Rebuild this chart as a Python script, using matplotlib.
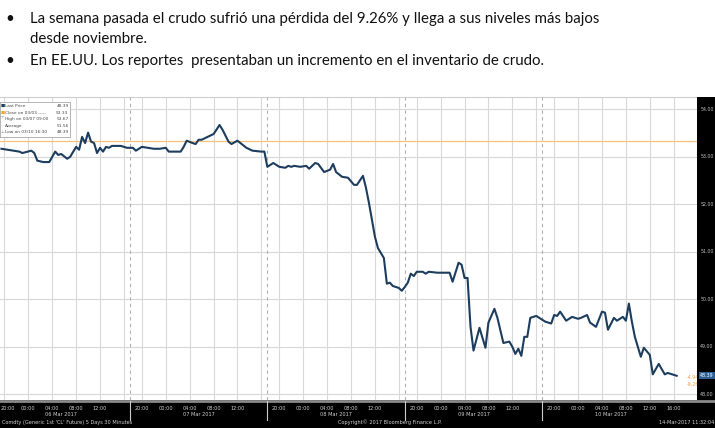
import matplotlib
matplotlib.use("Agg")
import matplotlib.pyplot as plt
from matplotlib.transforms import blended_transform_factory

# CL1 30-minute bars; x = trading hours since 05 Mar 2017 18:00 (sessions of 23 h: 18:00 -> 17:00)
hours = [1.5, 2.5, 3.5, 4.5, 5.0, 6.5, 7.0, 7.5, 8.5, 9.5,
         10.5, 11.0, 11.5, 12.5, 13.0, 14.0, 14.5, 15.0, 15.5, 16.0,
         16.5, 17.0, 17.5, 18.0, 18.5, 19.0, 19.5, 20.0, 21.5, 22.5,
         23.5, 24.0, 25.0, 26.0, 27.0, 28.0, 29.0, 29.5, 30.0, 31.5,
         32.0, 32.5, 33.5, 34.0, 34.5, 35.0, 36.0, 37.0, 38.0, 38.5,
         39.5, 40.0, 41.0, 41.5, 42.5, 43.5, 45.0, 45.5, 46.0, 46.5,
         47.0, 48.0, 49.0, 49.5, 50.0, 50.5, 51.5, 52.5, 53.0, 54.0,
         54.5, 55.5, 56.5, 57.0, 57.5, 58.5, 59.5, 60.5, 61.0, 62.0,
         62.5, 63.0, 64.0, 64.5, 65.5, 66.0, 66.5, 67.0, 68.0, 68.5,
         69.0, 69.5, 70.0, 70.5, 71.0, 72.0, 72.5, 73.0, 74.5, 76.5,
         77.0, 78.0, 78.5, 79.0, 79.5, 80.0, 80.5, 81.5, 82.5, 83.0,
         84.0, 84.5, 85.5, 86.5, 87.0, 87.5, 88.0, 88.5, 89.0, 89.5,
         90.0, 91.0, 91.5, 92.5, 93.5, 94.0, 94.5, 95.0, 96.0, 97.0,
         98.0, 98.5, 99.5, 100.0, 101.0, 102.0, 102.5, 103.0, 104.0, 104.5,
         105.5, 106.0, 106.5, 107.0, 107.5, 108.5, 109.0, 110.0, 110.5, 111.5,
         112.5, 113.0, 114.5]
price = [53.17, 53.15, 53.13, 53.11, 53.08, 53.13, 53.08, 52.92, 52.89, 52.89,
         53.11, 53.04, 53.06, 52.96, 53.00, 53.21, 53.15, 53.42, 53.29, 53.51,
         53.32, 53.29, 53.08, 53.19, 53.11, 53.21, 53.19, 53.23, 53.23, 53.19,
         53.19, 53.13, 53.21, 53.19, 53.17, 53.17, 53.19, 53.11, 53.11, 53.11,
         53.21, 53.34, 53.29, 53.27, 53.36, 53.36, 53.42, 53.48, 53.67, 53.57,
         53.32, 53.27, 53.34, 53.29, 53.19, 53.13, 53.11, 53.11, 52.79, 52.83,
         52.87, 52.79, 52.77, 52.81, 52.79, 52.81, 52.79, 52.81, 52.75, 52.87,
         52.85, 52.68, 52.73, 52.85, 52.68, 52.58, 52.56, 52.41, 52.41, 52.60,
         52.35, 52.03, 51.32, 51.08, 50.87, 50.33, 50.35, 50.28, 50.24, 50.18,
         50.26, 50.35, 50.54, 50.49, 50.58, 50.58, 50.54, 50.58, 50.56, 50.56,
         50.37, 50.77, 50.73, 50.45, 50.45, 49.42, 48.92, 49.40, 48.98, 49.51,
         49.80, 49.61, 49.08, 49.11, 49.00, 48.85, 48.96, 48.81, 49.21, 49.21,
         49.61, 49.65, 49.61, 49.53, 49.49, 49.67, 49.65, 49.74, 49.55, 49.63,
         49.59, 49.61, 49.67, 49.51, 49.42, 49.74, 49.72, 49.36, 49.61, 49.55,
         49.63, 49.55, 49.91, 49.53, 49.21, 48.79, 48.98, 48.83, 48.42, 48.64,
         48.42, 48.45, 48.39]

close_prev = 53.33
last_price = 48.39
legend_rows = [("Last Price", "48.39"), ("Close on 03/03 -----", "53.33"),
               ("High on 03/07 09:00", "53.67"), ("Average", "51.56"),
               ("Low on 03/10 16:30", "48.39")]
net_change = ["-4.94", "-9.26%"]
session_days = ["06 Mar 2017", "07 Mar 2017", "08 Mar 2017", "09 Mar 2017", "10 Mar 2017"]
clock_labels = ["20:00", "00:00", "04:00", "08:00", "12:00", "16:00"]
clock_offsets = [2, 6, 10, 14, 18, 22]
session_len = 23
price_ticks = [48, 49, 50, 51, 52, 53, 54]

bullets = ["La semana pasada el crudo sufrió una pérdida del 9.26% y llega a sus niveles más bajos",
           "desde noviembre.",
           "En EE.UU. Los reportes  presentaban un incremento en el inventario de crudo."]

W, H = 715, 428
def fx(px): return px / W
def fy(py): return 1 - py / H

LINE = '#1d3d5e'
GRID = '#d8d8d8'
TXT = '#d0d0d0'

fig = plt.figure(figsize=(W / 100, H / 100), dpi=100)
fig.patch.set_facecolor('white')

# bullets -- fit the first line to the width it has in the slide (~568 px)
bfont = ['Lato', 'DejaVu Sans']
t1 = fig.text(fx(30), fy(19), bullets[0], fontsize=12, va='center', ha='left', family=bfont, color='#111111')
renderer = fig.canvas.get_renderer()
w1 = t1.get_window_extent(renderer).width
fs = 12 * 568 / w1
t1.set_fontsize(fs)
fig.text(fx(30), fy(39), bullets[1], fontsize=fs, va='center', ha='left', family=bfont, color='#111111')
fig.text(fx(30), fy(61), bullets[2], fontsize=fs, va='center', ha='left', family=bfont, color='#111111')
for yb in (19, 61):
    fig.text(fx(5), fy(yb), "•", fontsize=fs, va='center', ha='left', family=bfont, color='#111111')

# main chart
x0, x1 = 1.26, 117.9
ax = fig.add_axes([0, fy(400), fx(697), (400 - 97) / H])
ax.set_xlim(x0, x1)
ax.set_ylim(47.88, 54.26)
ax.set_facecolor('white')
for s in ax.spines.values():
    s.set_visible(False)
ax.spines['top'].set_visible(True)
ax.spines['top'].set_color('#cfcfcf')

xt = []
for d in range(len(session_days)):
    for off in clock_offsets:
        xt.append(d * session_len + off)
ax.set_xticks(xt)
ax.set_yticks(price_ticks)
ax.tick_params(length=0, labelbottom=False, labelleft=False)
ax.grid(True, color=GRID, lw=0.8)
for d in range(1, len(session_days)):
    ax.axvline(d * session_len, color='#b0b0b0', lw=0.8, ls=(0, (3, 3)))

ax.axhline(close_prev, color='#f6c27a', lw=0.9)
ax.plot(hours, price, color=LINE, lw=1.5, solid_joinstyle='round')

tr = blended_transform_factory(ax.transAxes, ax.transData)
ax.text(0.985, last_price - 0.04, net_change[0], color='#f0a040', fontsize=3.4,
        ha='left', va='center', transform=tr, clip_on=False)
ax.text(0.985, last_price - 0.19, net_change[1], color='#f0a040', fontsize=3.4,
        ha='left', va='center', transform=tr, clip_on=False)

# legend box
axl = fig.add_axes([0, fy(137), fx(70), 35 / H])
axl.set_xlim(0, 70)
axl.set_ylim(35, 0)
axl.set_xticks([])
axl.set_yticks([])
for s in axl.spines.values():
    s.set_color('#aaaaaa')
    s.set_linewidth(0.6)
marks = [('■', LINE), ('■', '#f5a623'), ('⊤', '#999999'), ('-', '#999999'), ('⊥', '#999999')]
for i, (lab, val) in enumerate(legend_rows):
    yy = 4 + i * 6.6
    axl.text(1.0, yy, marks[i][0], color=marks[i][1], fontsize=3.2, va='center', ha='left')
    axl.text(5.0, yy, lab, color='#444444', fontsize=3.1, va='center', ha='left')
    axl.text(68.5, yy, val, color='#444444', fontsize=3.1, va='center', ha='right')

# right price strip
axr = fig.add_axes([fx(697), fy(400), 1 - fx(697), (400 - 97) / H])
axr.set_facecolor('black')
axr.set_ylim(47.88, 54.26)
axr.set_xlim(0, 1)
axr.set_xticks([])
axr.set_yticks([])
for s in axr.spines.values():
    s.set_visible(False)
for v in price_ticks:
    axr.text(0.55, v, f"{v:.2f}", color='#bfbfbf', fontsize=3.4, ha='center', va='center')
axr.text(0.55, last_price, f"{last_price:.2f}", color='white', fontsize=3.4, ha='center', va='center',
         bbox=dict(boxstyle='square,pad=0.25', facecolor='#2b5f96', edgecolor='none'))

# bottom time strip
axb = fig.add_axes([0, 0, 1, fy(400)])
axb.set_facecolor('black')
axb.set_xlim(x0, x0 + (x1 - x0) * W / 697)
axb.set_ylim(28, 0)
axb.set_xticks([])
axb.set_yticks([])
for s in axb.spines.values():
    s.set_visible(False)
axb.axhline(1.0, color='#8a8a8a', lw=2.0)
for d, day in enumerate(session_days):
    start = d * session_len
    for off, lab in zip(clock_offsets, clock_labels):
        if lab == "16:00" and d < len(session_days) - 1:
            continue
        ha = 'center'
        xx = start + off
        if d == 0 and off == clock_offsets[0]:
            ha, xx = 'left', x0 + 0.05
        axb.text(xx, 8, lab, color=TXT, fontsize=3.6, ha=ha, va='center')
    axb.text(start + session_len / 2, 15, day, color=TXT, fontsize=3.6, ha='center', va='center')
    if d > 0:
        axb.axvline(start, ymin=0.3, ymax=0.95, color='#cccccc', lw=0.8)
bt = blended_transform_factory(axb.transAxes, axb.transData)
axb.text(0.003, 22.5, "Comdty (Generic 1st 'CL' Future) 5 Days 30 Minutes", color=TXT, fontsize=3.6,
         ha='left', va='center', transform=bt)
axb.text(0.545, 22.5, "Copyright© 2017 Bloomberg Finance L.P.", color=TXT, fontsize=3.6,
         ha='center', va='center', transform=bt)
axb.text(0.999, 22.5, "14-Mar-2017 11:32:04", color=TXT, fontsize=3.6,
         ha='right', va='center', transform=bt)

fig.savefig("out.png", dpi=100)
